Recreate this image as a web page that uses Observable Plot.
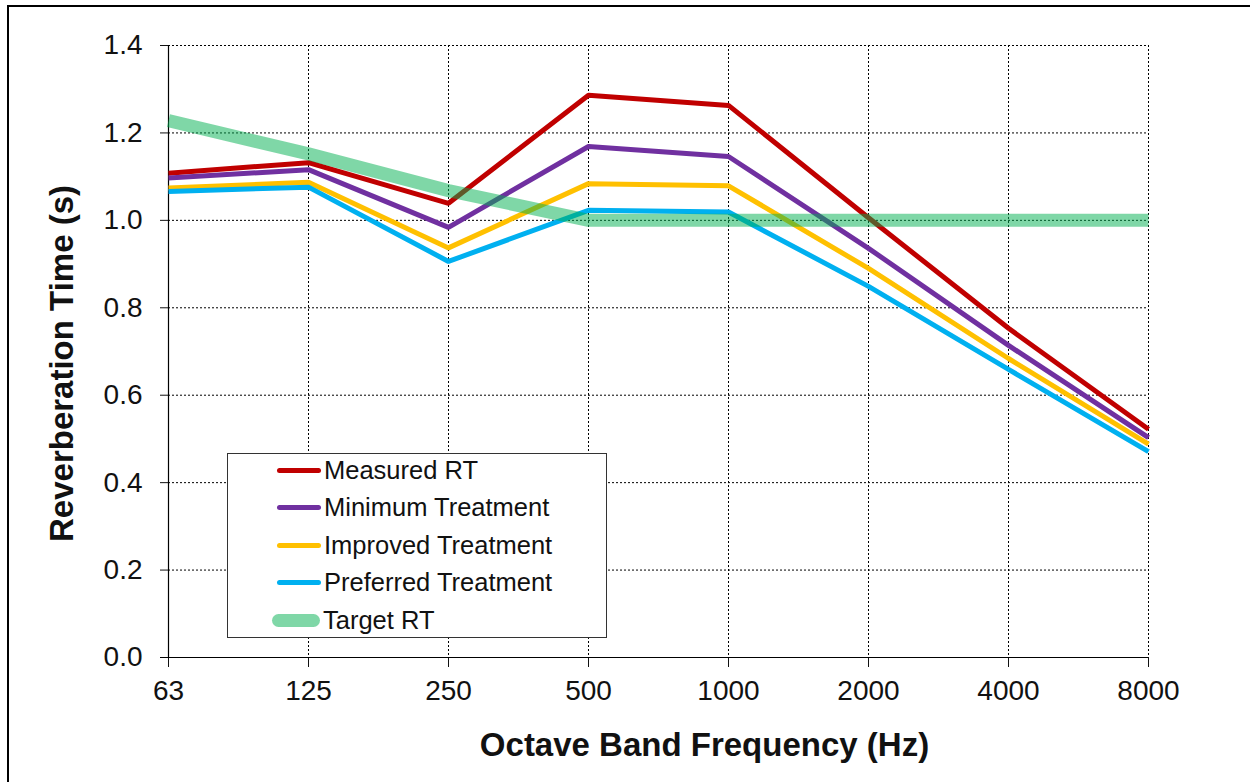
<!DOCTYPE html>
<html>
<head>
<meta charset="utf-8">
<script src="https://cdn.jsdelivr.net/npm/d3@7"></script>
<script src="https://cdn.jsdelivr.net/npm/@observablehq/plot@0.6"></script>
<style>
  html, body { margin: 0; padding: 0; background: #fff; overflow: hidden; }
  #wrap { position: relative; width: 1250px; height: 782px; font-family: "Liberation Sans", Arial, sans-serif; }
  #frame { position: absolute; left: 7px; top: 5px; width: 1300px; height: 900px; border: 2px solid #000; box-sizing: border-box; pointer-events: none; }
  #legend { position: absolute; left: 227px; top: 453px; width: 380px; height: 185px; border: 1.5px solid #333; box-sizing: border-box; background: #fff; }
  .item { position: absolute; left: 49px; height: 30px; display: flex; align-items: center; font-size: 25.5px; color: #111; white-space: nowrap; }
  .sw { width: 44px; margin-right: 3px; border-radius: 4px; flex: none; }
</style>
</head>
<body>
<div id="wrap">
  <div id="chart"></div>
  <div id="legend"></div>
  <div id="frame"></div>
</div>
<script>
const freqs = ["63", "125", "250", "500", "1000", "2000", "4000", "8000"];
const measuredRT   = [1.108, 1.132, 1.039, 1.286, 1.263, 1.006, 0.753, 0.522];
const minimumTreat = [1.097, 1.116, 0.984, 1.169, 1.146, 0.936, 0.714, 0.503];
const improvedTreat= [1.074, 1.087, 0.937, 1.084, 1.079, 0.890, 0.684, 0.488];
const preferredTreat=[1.066, 1.076, 0.906, 1.023, 1.019, 0.849, 0.659, 0.471];
const targetRT     = [1.228, 1.152, 1.068, 1.0, 1.0, 1.0, 1.0, 1.0];
const yTicks = [0, 0.2, 0.4, 0.6, 0.8, 1.0, 1.2, 1.4];

const seriesNames = ["Measured RT", "Minimum Treatment", "Improved Treatment", "Preferred Treatment", "Target RT"];
const seriesValues = [measuredRT, minimumTreat, improvedTreat, preferredTreat, targetRT];
const seriesColors = ["#C00000", "#7030A0", "#FFC000", "#00B0F0", "#00B050"];

const rows = s => freqs.map((f, i) => ({f, v: seriesValues[s][i], name: seriesNames[s]}));

const lineMark = s => Plot.line(rows(s), {
  x: "f", y: "v", stroke: seriesColors[s],
  strokeWidth: s === 4 ? 13 : 5,
  strokeOpacity: s === 4 ? 0.5 : 1,
  strokeLinejoin: "miter", strokeLinecap: "butt"
});

const chart = Plot.plot({
  width: 1250,
  height: 782,
  marginLeft: 168,
  marginRight: 102,
  marginTop: 45,
  marginBottom: 125,
  style: {fontFamily: "'Liberation Sans', Arial, sans-serif", fontSize: "28px", color: "#111", background: "transparent"},
  x: {type: "point", domain: freqs, padding: 0},
  y: {domain: [0, 1.4]},
  marks: [
    Plot.gridY(yTicks.filter(d => d > 0), {stroke: "#000", strokeOpacity: 1, strokeDasharray: "2,2", strokeWidth: 1}),
    Plot.gridX(freqs.slice(1), {stroke: "#000", strokeOpacity: 1, strokeDasharray: "2,2", strokeWidth: 1}),
    Plot.axisY(yTicks, {tickSize: 8, tickPadding: 18, tickFormat: d3.format(".1f"), label: null, fontSize: 28}),
    Plot.axisX(freqs, {tickSize: 10, tickPadding: 13, label: null, fontSize: 28}),
    Plot.ruleX([freqs[0]], {stroke: "#000", strokeWidth: 1.2}),
    Plot.ruleY([0], {stroke: "#000", strokeWidth: 1.2, insetLeft: -8}),
    lineMark(0), lineMark(1), lineMark(2), lineMark(3), lineMark(4),
    Plot.text(["Octave Band Frequency (Hz)"], {frameAnchor: "bottom", lineAnchor: "middle", dx: 46, dy: 88, fontSize: 33, fontWeight: "bold", fill: "#111"}),
    Plot.text(["Reverberation Time (s)"], {frameAnchor: "left", textAnchor: "middle", lineAnchor: "middle", dx: -106, dy: 12, rotate: -90, fontSize: 33, fontWeight: "bold", fill: "#111"})
  ]
});
document.getElementById("chart").appendChild(chart);

const legend = document.getElementById("legend");
seriesNames.forEach((n, i) => {
  const it = document.createElement("div");
  it.className = "item";
  it.style.top = (1 + i * 37.6) + "px";
  const sw = document.createElement("span");
  sw.className = "sw";
  sw.style.height = (i === 4 ? 13 : 5) + "px";
  sw.style.background = seriesColors[i];
  sw.style.opacity = i === 4 ? 0.5 : 1;
  if (i === 4) { sw.style.marginLeft = "-5px"; sw.style.width = "48px"; sw.style.borderRadius = "7px"; }
  it.appendChild(sw);
  const t = document.createElement("span");
  t.textContent = n;
  it.appendChild(t);
  legend.appendChild(it);
});
</script>
</body>
</html>
